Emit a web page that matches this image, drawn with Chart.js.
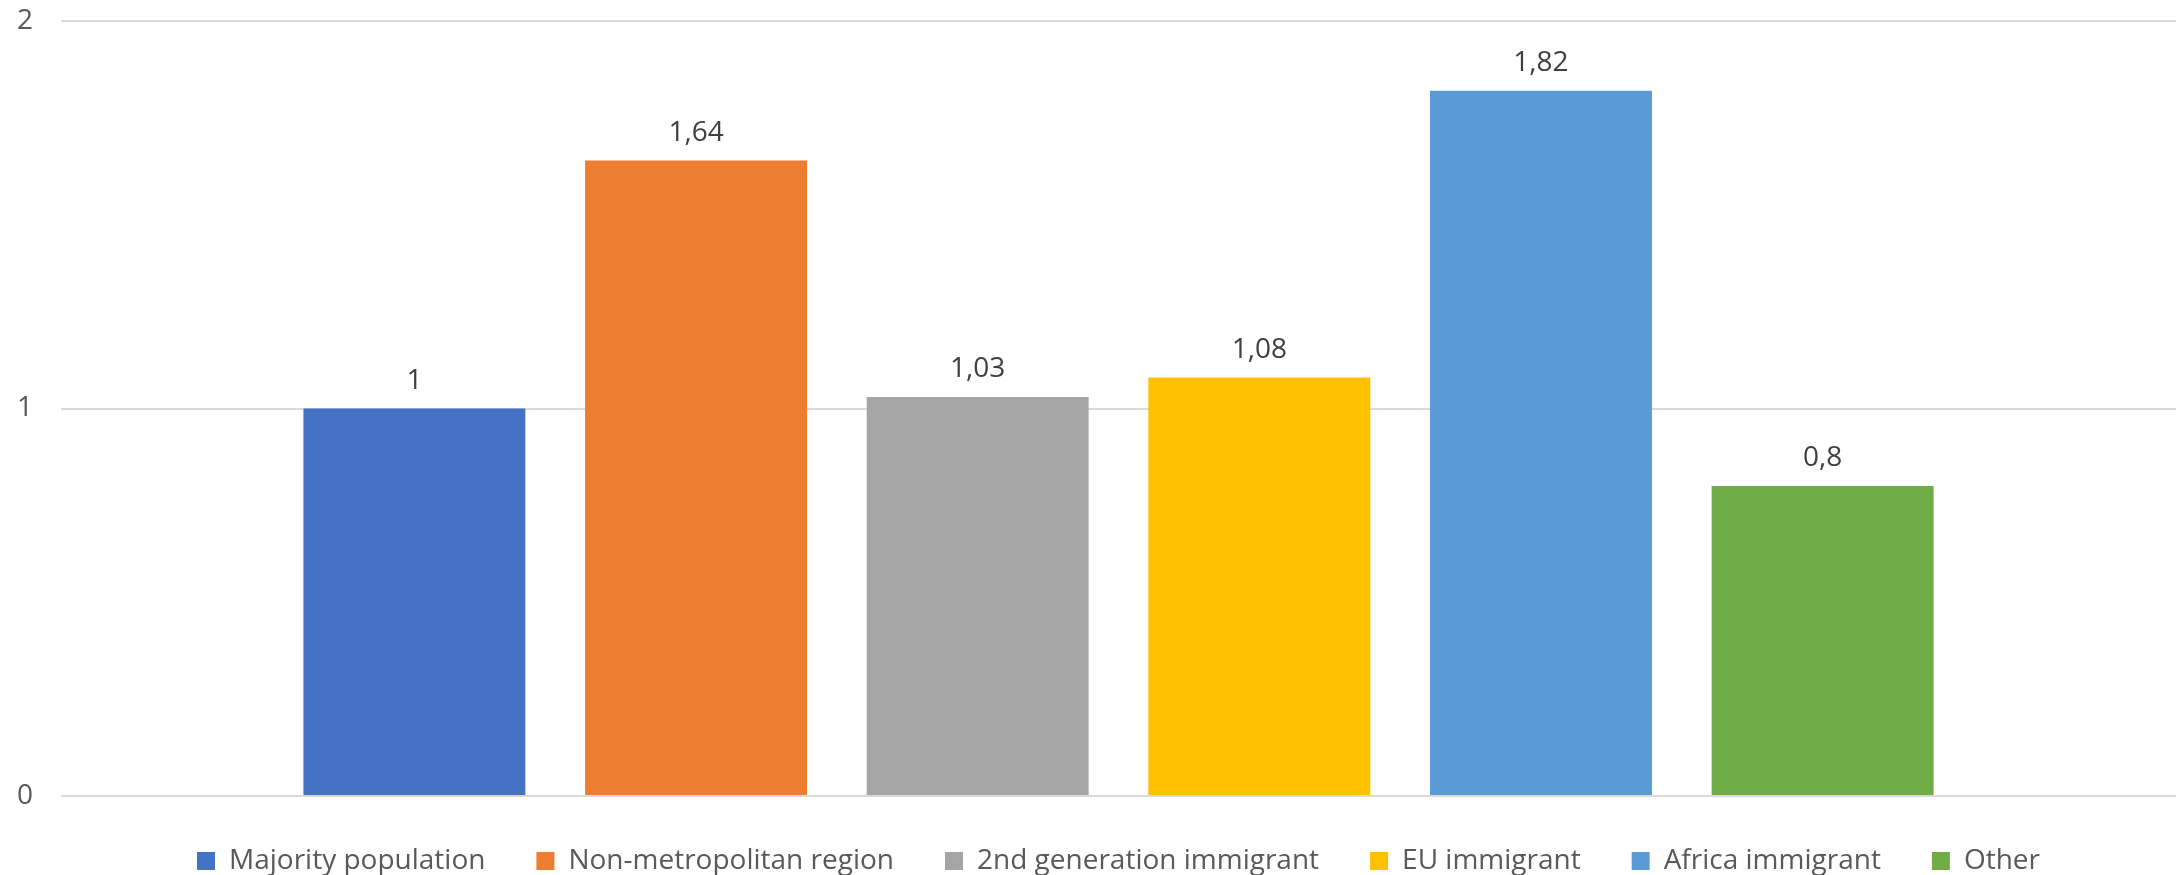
<!DOCTYPE html>
<html>
<head>
<meta charset="utf-8">
<script src="https://cdn.jsdelivr.net/npm/chart.js@4.4.0/dist/chart.umd.min.js"></script>
<style>
  html, body { margin: 0; padding: 0; background: #ffffff; }
  #wrap { width: 2178px; height: 875px; position: relative; }
</style>
</head>
<body>
<div id="wrap"><canvas id="chart" width="2178" height="875"></canvas></div>
<script>
// Groups compared (one bar each)
const groups = ['Majority population', 'Non-metropolitan region', '2nd generation immigrant', 'EU immigrant', 'Africa immigrant', 'Other'];
// Relative values per group
const values = [1, 1.64, 1.03, 1.08, 1.82, 0.8];
// Bar fill colours
const colors = ['#4472C4', '#ED7D31', '#A5A5A5', '#FFC000', '#5B9BD5', '#70AD47'];
// Y-axis tick values
const yTicks = [0, 1, 2];

const FONT = "'Open Sans', 'DejaVu Sans', sans-serif";

function fmt(v) {
  return String(v).replace('.', ',');
}

// Writes each bar's value above it
const valueLabels = {
  id: 'valueLabels',
  afterDatasetsDraw(chart) {
    const ctx = chart.ctx;
    ctx.save();
    ctx.font = '28px ' + FONT;
    ctx.fillStyle = '#404040';
    ctx.textAlign = 'center';
    ctx.textBaseline = 'alphabetic';
    chart.data.datasets.forEach((ds, i) => {
      const meta = chart.getDatasetMeta(i);
      meta.data.forEach((bar, j) => {
        ctx.fillText(fmt(ds.data[j]), bar.x, bar.y - 20);
      });
    });
    ctx.restore();
  }
};

const datasets = groups.map((g, i) => ({
  label: g,
  data: [values[i]],
  backgroundColor: colors[i],
  borderWidth: 0,
  categoryPercentage: 0.799,
  barPercentage: 0.788
}));

new Chart(document.getElementById('chart'), {
  type: 'bar',
  data: { labels: [''], datasets },
  plugins: [valueLabels],
  options: {
    responsive: false,
    animation: false,
    layout: { padding: { top: 21, right: 2, bottom: -10, left: 17 } },
    plugins: {
      tooltip: { enabled: false },
      legend: {
        position: 'bottom',
        fullSize: false,
        labels: {
          boxWidth: 18,
          boxHeight: 18,
          padding: 51,
          color: '#595959',
          font: { family: FONT, size: 28 }
        }
      }
    },
    scales: {
      x: { display: false },
      y: {
        min: yTicks[0],
        max: yTicks[yTicks.length - 1],
        afterFit(scale) { scale.width = 44; },
        afterBuildTicks(scale) { scale.ticks = yTicks.map(v => ({ value: v })); },
        border: { display: false },
        grid: { color: '#d9d9d9', lineWidth: 2, drawTicks: false },
        ticks: {
          padding: 0,
          crossAlign: 'far',
          color: '#595959',
          font: { family: FONT, size: 28 },
          callback: (v) => fmt(v)
        }
      }
    }
  }
});
</script>
</body>
</html>
